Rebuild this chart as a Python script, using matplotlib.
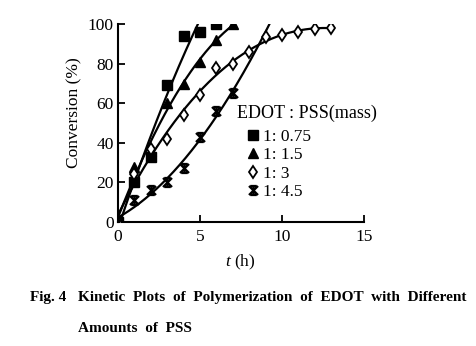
import numpy as np
import matplotlib
matplotlib.use("Agg")
import matplotlib.pyplot as plt
from matplotlib.path import Path
from matplotlib.lines import Line2D

plt.rcParams['font.family'] = ['Liberation Serif', 'DejaVu Serif']
plt.rcParams['mathtext.fontset'] = 'custom'
plt.rcParams['mathtext.it'] = 'Liberation Serif:italic'
plt.rcParams['mathtext.rm'] = 'Liberation Serif'

# Conversion (%) versus time (h) for each EDOT:PSS mass ratio
t_075 = [0, 1, 2, 3, 4, 5, 6]
c_075 = [0, 20, 33, 69, 94, 96, 100]

t_15 = [0, 1, 2, 3, 4, 5, 6, 7]
c_15 = [0, 28, 36, 60, 69.5, 81, 92, 100]

t_3 = [0, 1, 2, 3, 4, 5, 6, 7, 8, 9, 10, 11, 12, 13]
c_3 = [0, 24, 37, 42, 54, 64, 78, 80, 86, 93.5, 94.6, 96, 97.5, 98]

t_45 = [0, 1, 2, 3, 4, 5, 6, 7]
c_45 = [0, 11, 16, 20, 27.5, 43, 56, 65]

labels = ['1: 0.75', '1: 1.5', '1: 3', '1: 4.5']
legend_title = 'EDOT : PSS(mass)'

# asterisk-like marker: an X crossed by a vertical stroke
star = Path([(-1, -1), (1, 1), (-1, 1), (1, -1), (0, -1), (0, 1),
             (-0.7, 1), (0.7, 1), (-0.7, -1), (0.7, -1)],
            [Path.MOVETO, Path.LINETO] * 5)

fig = plt.figure(figsize=(4.77, 3.46), dpi=100)
ax = fig.add_axes([118 / 477, 1 - 222 / 346, (364 - 118) / 477, (222 - 24) / 346])


def trend(t, c, deg, fit_n=None, t_end=None):
    t = np.asarray(t, float)
    c = np.asarray(c, float)
    n = len(t) if fit_n is None else fit_n
    p = np.polyfit(t[:n], c[:n], deg)
    tt = np.linspace(0, t_end if t_end else t[-1], 300)
    yy = np.polyval(p, tt)
    keep = yy <= 100.5
    ax.plot(tt[keep], yy[keep], color='black', lw=1.6, zorder=2)


trend(t_075, c_075, 2, fit_n=6, t_end=6)
trend(t_15, c_15, 2)
trend(t_3, c_3, 3)
trend(t_45, c_45, 2, t_end=11)

ms = 6.5
ax.plot(t_075, c_075, ls='none', marker='s', ms=ms, mfc='black', mec='black', zorder=3)
ax.plot(t_15, c_15, ls='none', marker='^', ms=ms + 0.5, mfc='black', mec='black', zorder=3)
ax.plot(t_3, c_3, ls='none', marker='d', ms=ms, mfc='white', mec='black', mew=1.3, zorder=3)
ax.plot(t_45, c_45, ls='none', marker=star, ms=ms, mfc='none', mec='black', mew=1.6, zorder=3)

ax.set_xlim(0, 15)
ax.set_ylim(0, 100)
ax.set_xticks([0, 5, 10, 15])
ax.set_yticks([0, 20, 40, 60, 80, 100])
for s in ['top', 'right']:
    ax.spines[s].set_visible(False)
for s in ['left', 'bottom']:
    ax.spines[s].set_linewidth(1.5)
ax.tick_params(direction='in', length=5, width=1.3, labelsize=12.5)
ax.tick_params(axis='x', pad=5)
ax.tick_params(axis='y', pad=3)

fig.text(74 / 477, 1 - 113 / 346, 'Conversion (%)', fontsize=12.5, rotation=90,
         ha='center', va='center')
fig.text(240 / 477, 1 - 262 / 346, r'$\mathit{t}$ (h)', fontsize=12.5,
         ha='center', va='center')

handles = [
    Line2D([], [], ls='none', marker='s', ms=ms, mfc='black', mec='black'),
    Line2D([], [], ls='none', marker='^', ms=ms + 0.5, mfc='black', mec='black'),
    Line2D([], [], ls='none', marker='d', ms=ms, mfc='white', mec='black', mew=1.3),
    Line2D([], [], ls='none', marker=star, ms=ms, mfc='none', mec='black', mew=1.6),
]
fig.text(237 / 477, 1 - 113 / 346, legend_title, fontsize=13, va='center', ha='left')
ax.legend(handles, labels, loc='upper left', bbox_to_anchor=(248 / 477, 1 - 129 / 346),
          bbox_transform=fig.transFigure, frameon=False, fontsize=12.5,
          handlelength=0.6, handletextpad=0.25, labelspacing=0.12, borderpad=0,
          borderaxespad=0)

cap = dict(fontsize=11, fontweight='bold', va='center', ha='left')
fig.text(30 / 477, 1 - 298 / 346, 'Fig. 4', **cap)
fig.text(78 / 477, 1 - 298 / 346,
         'Kinetic  Plots  of  Polymerization  of  EDOT  with  Different', **cap)
fig.text(78 / 477, 1 - 328 / 346, 'Amounts  of  PSS', **cap)

fig.savefig('out.png', dpi=100)
